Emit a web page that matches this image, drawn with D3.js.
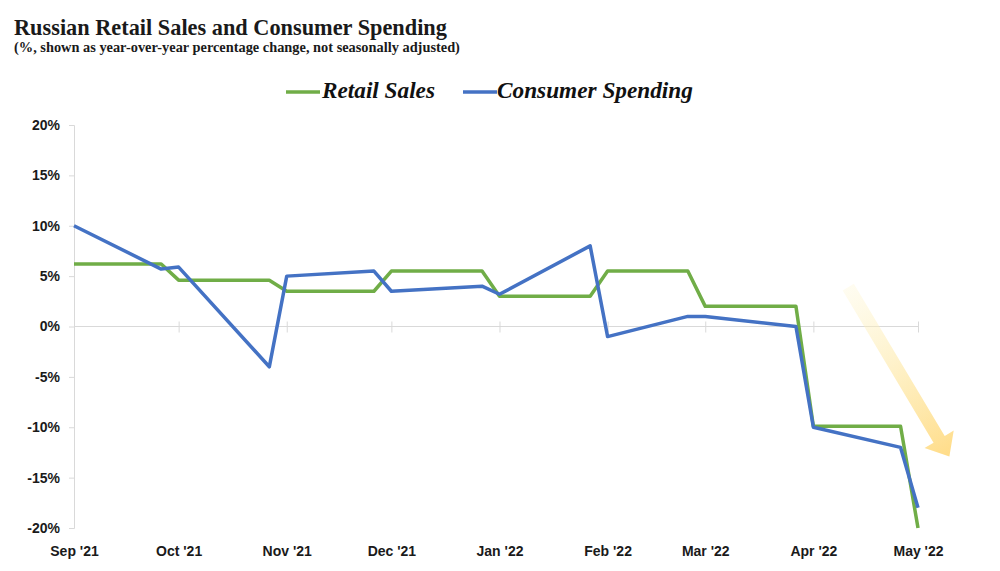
<!DOCTYPE html>
<html>
<head>
<meta charset="utf-8">
<script src="https://cdn.jsdelivr.net/npm/d3@7"></script>
<style>
  html, body { margin: 0; padding: 0; background: #fff; }
  svg { display: block; }
</style>
</head>
<body>
<svg id="chart" width="1000" height="571"></svg>
<script>
// ---------------- data ----------------
const dates = ["2021-09-01","2021-09-26","2021-10-01","2021-10-27","2021-11-01","2021-11-26",
               "2021-12-01","2021-12-27","2022-01-01","2022-01-27","2022-02-01","2022-02-24",
               "2022-03-01","2022-03-27","2022-04-01","2022-04-26","2022-05-01"];
const retailSales = [6.2, 6.2, 4.6, 4.6, 3.5, 3.5, 5.5, 5.5, 3.0, 3.0, 5.5, 5.5, 2.0, 2.0, -9.9, -9.9, -20.0];
const consumerSpending = [10.0, 5.7, 5.9, -4.0, 5.0, 5.5, 3.5, 4.0, 3.2, 8.0, -1.0, 1.0, 1.0, 0.0, -10.0, -12.0, -18.0];
const monthTicks = ["2021-09-01","2021-10-01","2021-11-01","2021-12-01","2022-01-01",
                    "2022-02-01","2022-03-01","2022-04-01","2022-05-01"];
const monthLabels = ["Sep '21","Oct '21","Nov '21","Dec '21","Jan '22","Feb '22","Mar '22","Apr '22","May '22"];
const yTicks = [20, 15, 10, 5, 0, -5, -10, -15, -20];
const seriesNames = ["Retail Sales", "Consumer Spending"];
const seriesColors = ["#70ad47", "#4472c4"];
// trend arrow annotation (start / tip in data units)
const arrowStart = { date: "2022-04-11", value: 3.9 };
const arrowTip = { date: "2022-05-10", value: -12.9 };

// ---------------- layout ----------------
const svg = d3.select("#chart");
const parse = d3.utcParse("%Y-%m-%d");
const x = d3.scaleUtc().domain([parse(monthTicks[0]), parse(monthTicks[monthTicks.length - 1])]).range([74, 918]);
const y = d3.scaleLinear().domain([-20, 20]).range([528, 125]);
const gridColor = "#d9d9d9";
const labelFont = "'Liberation Sans', Arial, sans-serif";
const serifFont = "'Liberation Serif', 'Times New Roman', serif";

function fitWidth(sel, target) {
  const w = sel.node().getComputedTextLength();
  const fs = parseFloat(sel.attr("font-size"));
  sel.attr("font-size", (fs * target / w).toFixed(2));
}

// title
const title = svg.append("text").attr("x", 14).attr("y", 35)
  .attr("font-family", serifFont).attr("font-weight", "bold").attr("font-size", 20)
  .attr("fill", "#1a1a1a").text("Russian Retail Sales and Consumer Spending");
fitWidth(title, 433);
const sub = svg.append("text").attr("x", 14).attr("y", 52)
  .attr("font-family", serifFont).attr("font-weight", "bold").attr("font-size", 13)
  .attr("fill", "#1a1a1a").text("(%, shown as year-over-year percentage change, not seasonally adjusted)");
fitWidth(sub, 446);

// legend
const legendItems = [
  { lx: 286, tx: 322, tw: 113 },
  { lx: 463, tx: 497, tw: 196 }
];
legendItems.forEach((it, i) => {
  svg.append("line").attr("x1", it.lx).attr("x2", it.lx + 34).attr("y1", 92).attr("y2", 92)
    .attr("stroke", seriesColors[i]).attr("stroke-width", 3.5);
  const t = svg.append("text").attr("x", it.tx).attr("y", 98)
    .attr("font-family", serifFont).attr("font-weight", "bold").attr("font-style", "italic")
    .attr("font-size", 19).attr("fill", "#111").text(seriesNames[i]);
  fitWidth(t, it.tw);
});

// y axis
const yAxis = d3.axisLeft(y).tickValues(yTicks).tickSize(5).tickFormat(d => d + "%");
const gy = svg.append("g").attr("transform", `translate(${x.range()[0]},0)`).call(yAxis);
gy.select(".domain").attr("stroke", gridColor);
gy.selectAll(".tick line").attr("stroke", gridColor);
gy.selectAll(".tick text").attr("x", -14).attr("font-family", labelFont).attr("font-weight", "bold")
  .attr("font-size", 14).attr("fill", "#1a1a1a");

// zero axis line with crossing month ticks
const tickDates = monthTicks.map(parse);
const xAxis = d3.axisBottom(x).tickValues(tickDates).tickSize(6).tickFormat("");
const gx0 = svg.append("g").attr("transform", `translate(0,${y(0)})`).call(xAxis);
gx0.select(".domain").attr("stroke", gridColor).attr("d", `M${x.range()[0]},0H${x.range()[1]}`);
gx0.selectAll(".tick line").attr("stroke", gridColor).attr("y1", -5).attr("y2", 6);
gx0.selectAll(".tick").filter((d, i) => i === 0).remove();

// month labels at the bottom
const gxl = svg.append("g").attr("transform", `translate(0,${y(-20)})`)
  .call(d3.axisBottom(x).tickValues(tickDates).tickSize(0).tickPadding(0)
    .tickFormat((d, i) => monthLabels[i]));
gxl.select(".domain").remove();
gxl.selectAll(".tick text").attr("y", 28).attr("dy", 0).attr("font-family", labelFont)
  .attr("font-weight", "bold").attr("font-size", 14).attr("fill", "#1a1a1a");

// arrow annotation
(function () {
  const sx = x(parse(arrowStart.date)), sy = y(arrowStart.value);
  const tx = x(parse(arrowTip.date)), ty = y(arrowTip.value);
  const dx = tx - sx, dy = ty - sy, L = Math.hypot(dx, dy);
  const ux = dx / L, uy = dy / L, px = -uy, py = ux;
  const sw = 6.5, hw = 17, hl = 20;
  const bx = tx - ux * hl, by = ty - uy * hl;
  const pts = [
    [sx + px * sw, sy + py * sw], [bx + px * sw, by + py * sw], [bx + px * hw, by + py * hw],
    [tx, ty], [bx - px * hw, by - py * hw], [bx - px * sw, by - py * sw], [sx - px * sw, sy - py * sw]
  ];
  const grad = svg.append("defs").append("linearGradient").attr("id", "arrowGrad")
    .attr("gradientUnits", "userSpaceOnUse")
    .attr("x1", sx).attr("y1", sy).attr("x2", tx).attr("y2", ty);
  grad.append("stop").attr("offset", 0).attr("stop-color", "#fdf3c4").attr("stop-opacity", 0.25);
  grad.append("stop").attr("offset", 0.6).attr("stop-color", "#fee8a8").attr("stop-opacity", 0.8);
  grad.append("stop").attr("offset", 1).attr("stop-color", "#ffdc88").attr("stop-opacity", 1);
  svg.append("path").attr("d", "M" + pts.map(p => p.join(",")).join("L") + "Z")
    .attr("fill", "url(#arrowGrad)");
})();

// lines
const line = d3.line().x(d => x(d.date)).y(d => y(d.value));
[retailSales, consumerSpending].forEach((vals, i) => {
  const pts = dates.map((d, j) => ({ date: parse(d), value: vals[j] }));
  svg.append("path").datum(pts).attr("d", line).attr("fill", "none")
    .attr("stroke", seriesColors[i]).attr("stroke-width", 3.5)
    .attr("stroke-linejoin", "round").attr("stroke-linecap", "butt");
});
</script>
</body>
</html>
